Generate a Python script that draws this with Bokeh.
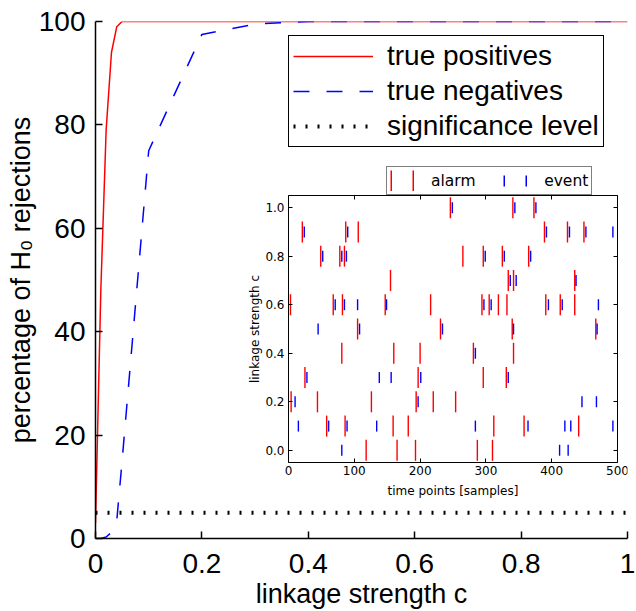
from bokeh.plotting import figure
from bokeh.models import (Range1d, FixedTicker, PrintfTickFormatter, Legend, LegendItem,
                          LinearAxis, ColumnDataSource)
from bokeh.embed import file_html
from bokeh.resources import INLINE

# ---------------- main panel data ----------------
linkage_c = [0.0, 0.01, 0.02, 0.03, 0.04, 0.05, 0.1, 0.2, 0.3, 0.4, 0.5, 0.6, 0.7, 0.8, 0.9, 1.0]
true_positives = [3, 48, 79, 94, 99, 100, 100, 100, 100, 100, 100, 100, 100, 100, 100, 100]
true_negatives = [0, 0, 0.3, 1.2, 3.5, 15, 75, 97.5, 99.5, 100, 100, 100, 100, 100, 100, 100]
sig_c = [0.0, 1.0]
sig_level = [5, 5]
main_x_ticks = [0, 0.2, 0.4, 0.6, 0.8, 1.0]
main_y_ticks = [0, 20, 40, 60, 80, 100]

# ---------------- inset data ----------------
inset_levels = [0.0, 0.1, 0.2, 0.3, 0.4, 0.5, 0.6, 0.7, 0.8, 0.9, 1.0]
alarm_times = [
    [118, 165, 193, 287, 310],
    [58, 86, 159, 182, 312, 358, 441],
    [4, 44, 126, 194, 220, 254],
    [25, 197, 296, 331],
    [81, 160, 200, 281, 342],
    [105, 231, 340, 467],
    [3, 68, 82, 147, 216, 294, 305, 319, 332, 391, 413, 435],
    [155, 334, 342, 435],
    [49, 78, 85, 265, 296, 325, 365],
    [21, 87, 106, 389, 424, 449],
    [246, 341, 373],
]
event_times = [
    [81, 412, 425],
    [15, 61, 89, 134, 284, 364, 420, 429, 493],
    [10, 197, 446, 468],
    [28, 138, 156, 201, 334],
    [284],
    [45, 108, 234, 342, 469],
    [71, 85, 105, 149, 297, 308, 395, 416, 471],
    [337, 346, 437],
    [52, 81, 88, 299, 328, 368],
    [24, 90, 392, 427, 452, 493],
    [249, 344, 376],
]
inset_x_ticks = [0, 100, 200, 300, 400, 500]
inset_y_ticks = [0.0, 0.2, 0.4, 0.6, 0.8, 1.0]
inset_x_lim = (0, 500)
inset_y_lim = (-0.05, 1.05)

FONT_M = "Liberation Sans"
FONT_I = "DejaVu Sans"

# ---------------- layout geometry (figure pixels) ----------------
W, H = 636, 611
MAIN_L, MAIN_R, MAIN_T, MAIN_B = 95, 627, 21, 538
INSET_L, INSET_R, INSET_T, INSET_B = 288, 617, 195, 462

p = figure(width=W, height=H, x_range=Range1d(0, 1), y_range=Range1d(0, 100),
           output_backend="svg", toolbar_location=None,
           min_border_left=MAIN_L, min_border_right=W - MAIN_R,
           min_border_top=MAIN_T, min_border_bottom=H - MAIN_B)
p.outline_line_color = None
p.grid.visible = False
p.background_fill_color = "white"
p.border_fill_color = "white"

# extra ranges that place the inset's data inside its sub-rectangle of the frame
fx0 = (INSET_L - MAIN_L) / (MAIN_R - MAIN_L)
fx1 = (INSET_R - MAIN_L) / (MAIN_R - MAIN_L)
fy0 = (MAIN_B - INSET_B) / (MAIN_B - MAIN_T)
fy1 = (MAIN_B - INSET_T) / (MAIN_B - MAIN_T)
xs = (inset_x_lim[1] - inset_x_lim[0]) / (fx1 - fx0)
ys = (inset_y_lim[1] - inset_y_lim[0]) / (fy1 - fy0)
p.extra_x_ranges = {"ix": Range1d(inset_x_lim[0] - fx0 * xs, inset_x_lim[1] + (1 - fx1) * xs)}
p.extra_y_ranges = {"iy": Range1d(inset_y_lim[0] - fy0 * ys, inset_y_lim[1] + (1 - fy1) * ys)}

# ---------------- main curves ----------------
r_tp = p.line(linkage_c, true_positives, line_color="#ff0000", line_width=1.5)
r_tn = p.line(linkage_c, true_negatives, line_color="#0000ff", line_width=1.5, line_dash="16 17")
r_sig = p.line(sig_c, sig_level, line_color="black", line_width=4, line_dash="2 10")

bx = p.below[0]
ly = p.left[0]
bx.ticker = FixedTicker(ticks=main_x_ticks)
bx.formatter = PrintfTickFormatter(format="%g")
ly.ticker = FixedTicker(ticks=main_y_ticks)
bx.axis_label = "linkage strength c"
ly.axis_label = "percentage of H\u2080 rejections"
for ax in (bx, ly):
    ax.major_tick_in = 7
    ax.major_tick_out = 0
    ax.minor_tick_line_color = None
    ax.axis_line_width = 1.5
    ax.major_tick_line_width = 1.5
    ax.axis_line_color = "black"
    ax.major_tick_line_color = "black"
    ax.major_label_text_font = FONT_M
    ax.major_label_text_font_size = "28px"
    ax.major_label_text_color = "black"
    ax.axis_label_text_font = FONT_M
    ax.axis_label_text_font_size = "27px"
    ax.axis_label_text_font_style = "normal"
    ax.axis_label_text_color = "black"
bx.major_label_standoff = 15
bx.axis_label_standoff = 3
ly.major_label_standoff = 10
ly.axis_label_standoff = 0

main_legend = Legend(
    items=[LegendItem(label="true positives", renderers=[r_tp]),
           LegendItem(label="true negatives", renderers=[r_tn]),
           LegendItem(label="significance level", renderers=[r_sig])],
    location=(193, 391), orientation="vertical", margin=0,
    glyph_width=80, glyph_height=30, label_standoff=14, padding=4, spacing=3,
    label_width=200,
    border_line_color="black", border_line_width=1.5, border_line_alpha=1,
    background_fill_color="white", background_fill_alpha=1,
    label_text_font=FONT_M, label_text_font_size="28px", label_text_color="black")
p.add_layout(main_legend)

# ---------------- inset ----------------
a_t, a_c, e_t, e_c = [], [], [], []
for lev, ts in zip(inset_levels, alarm_times):
    a_t += ts
    a_c += [lev] * len(ts)
for lev, ts in zip(inset_levels, event_times):
    e_t += ts
    e_c += [lev] * len(ts)
alarm_src = ColumnDataSource(dict(t=a_t, c=a_c))
event_src = ColumnDataSource(dict(t=e_t, c=e_c))

p.rect(x="t", y="c", width=1.4, height=21, width_units="screen", height_units="screen",
       source=alarm_src, fill_color="#ff0000", line_color=None,
       x_range_name="ix", y_range_name="iy")
p.rect(x="t", y="c", width=1.4, height=11, width_units="screen", height_units="screen",
       source=event_src, fill_color="#0000ff", line_color=None,
       x_range_name="ix", y_range_name="iy")
# legend keys (not drawn in the plot): short thick strokes look like the tick markers
nan = float("nan")
key_alarm = p.line(x=[nan], y=[nan], line_color="#ff0000", line_width=21)
key_event = p.line(x=[nan], y=[nan], line_color="#0000ff", line_width=11)

ib = LinearAxis(x_range_name="ix", y_range_name="iy", fixed_location=inset_y_lim[0],
                bounds=inset_x_lim, ticker=FixedTicker(ticks=inset_x_ticks),
                axis_label="time points [samples]")
il = LinearAxis(x_range_name="ix", y_range_name="iy", fixed_location=inset_x_lim[0],
                bounds=inset_y_lim, ticker=FixedTicker(ticks=inset_y_ticks),
                formatter=PrintfTickFormatter(format="%.1f"),
                axis_label="linkage strength c")
it = LinearAxis(x_range_name="ix", y_range_name="iy", fixed_location=inset_y_lim[1],
                bounds=inset_x_lim, ticker=FixedTicker(ticks=inset_x_ticks))
ir = LinearAxis(x_range_name="ix", y_range_name="iy", fixed_location=inset_x_lim[1],
                bounds=inset_y_lim, ticker=FixedTicker(ticks=inset_y_ticks))
p.add_layout(ib, "below")
p.add_layout(il, "left")
p.add_layout(it, "above")
p.add_layout(ir, "right")
for ax in (ib, il, it, ir):
    ax.major_tick_in = 4
    ax.major_tick_out = 0
    ax.minor_tick_line_color = None
    ax.axis_line_color = "black"
    ax.axis_line_width = 1
    ax.major_tick_line_color = "black"
    ax.major_tick_line_width = 1
for ax in (it, ir):
    ax.major_label_text_color = None
    ax.major_label_standoff = 0
for ax in (ib, il):
    ax.major_label_text_font = FONT_I
    ax.major_label_text_font_size = "12px"
    ax.major_label_text_color = "black"
    ax.axis_label_text_font = FONT_I
    ax.axis_label_text_font_size = "12px"
    ax.axis_label_text_font_style = "normal"
    ax.axis_label_text_color = "black"
ib.major_label_standoff = 3
ib.axis_label_standoff = 6
il.major_label_standoff = 4
il.axis_label_standoff = 0

NB = "\u00a0"
inset_legend = Legend(
    items=[LegendItem(label="", renderers=[key_alarm]),
           LegendItem(label="alarm" + NB * 5, renderers=[key_alarm]),
           LegendItem(label="", renderers=[key_event]),
           LegendItem(label="event", renderers=[key_event])],
    location=(INSET_L - MAIN_L + 98, MAIN_B - INSET_T), orientation="horizontal",
    margin=0, padding=3,
    glyph_width=2, glyph_height=21, label_standoff=17, spacing=3, label_width=0,
    border_line_color="black", border_line_width=1,
    background_fill_color="white", background_fill_alpha=1,
    label_text_font=FONT_I, label_text_font_size="15.5px", label_text_color="black")
p.add_layout(inset_legend)

open("out.html", "w").write(file_html(p, INLINE))
